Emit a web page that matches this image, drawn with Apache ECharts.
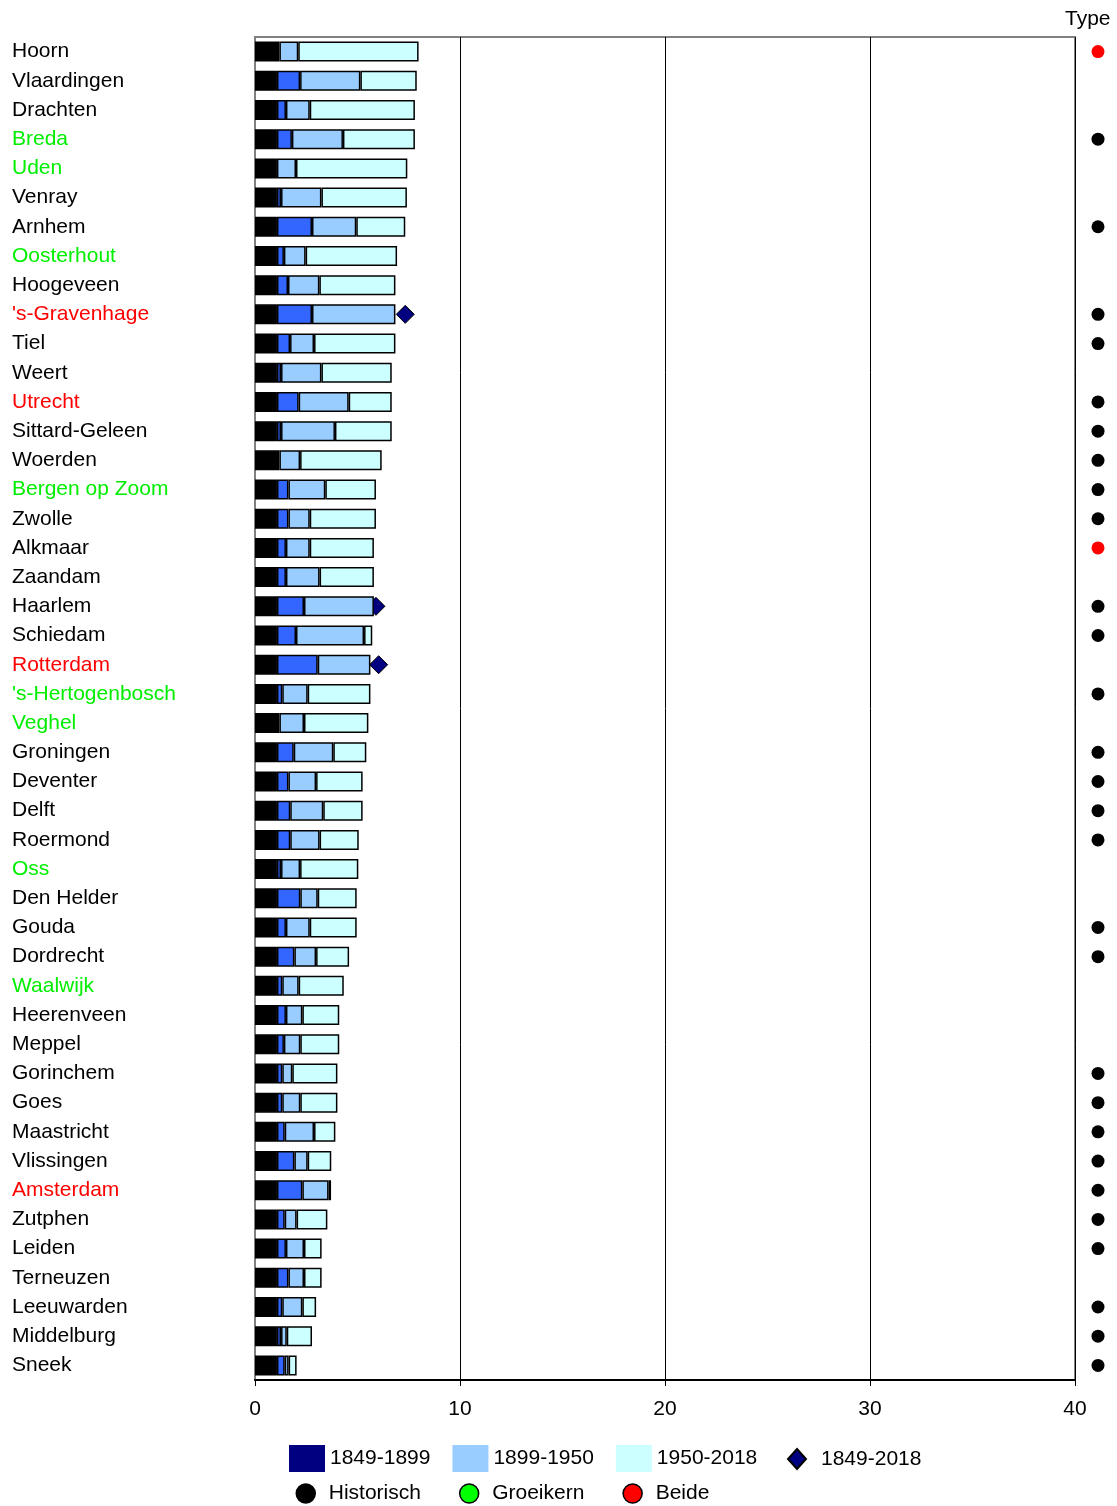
<!DOCTYPE html>
<html><head><meta charset="utf-8">
<script src="https://cdn.jsdelivr.net/npm/echarts@6/dist/echarts.min.js"></script>
<style>html,body{margin:0;padding:0;background:#fff}#c{width:1117px;height:1506px}</style>
</head><body><div id="c"></div>
<script>
const cities = ["Hoorn","Vlaardingen","Drachten","Breda","Uden","Venray","Arnhem","Oosterhout","Hoogeveen","'s-Gravenhage","Tiel","Weert","Utrecht","Sittard-Geleen","Woerden","Bergen op Zoom","Zwolle","Alkmaar","Zaandam","Haarlem","Schiedam","Rotterdam","'s-Hertogenbosch","Veghel","Groningen","Deventer","Delft","Roermond","Oss","Den Helder","Gouda","Dordrecht","Waalwijk","Heerenveen","Meppel","Gorinchem","Goes","Maastricht","Vlissingen","Amsterdam","Zutphen","Leiden","Terneuzen","Leeuwarden","Middelburg","Sneek"];
// label colour group: n = black, g = green, r = red
const labelGroup = ["n","n","n","g","g","n","n","g","n","r","n","n","r","n","n","g","n","n","n","n","n","r","g","g","n","n","n","n","g","n","n","n","g","n","n","n","n","n","n","r","n","n","n","n","n","n"];
// type column: H = Historisch, G = Groeikern, B = Beide, "" = none
const cityType = ["B","","","H","","","H","","","H","H","","H","H","H","H","H","B","","H","H","","H","","H","H","H","H","","","H","H","","","","H","H","H","H","H","H","H","","H","H","H"];
const base = [1.19,1.07,1.07,1.07,1.07,1.07,1.07,1.07,1.07,1.07,1.07,1.07,1.07,1.07,1.19,1.07,1.07,1.07,1.07,1.07,1.07,1.07,1.07,1.19,1.07,1.07,1.07,1.07,1.07,1.07,1.07,1.07,1.07,1.07,1.07,1.07,1.07,1.07,1.07,1.07,1.07,1.07,1.07,1.07,1.07,1.07];
const p1849_1899 = [null,1.13,0.44,0.73,null,0.2,1.71,0.34,0.54,1.71,0.64,0.2,1.06,0.2,null,0.56,0.56,0.44,0.44,1.32,0.93,1.99,0.26,null,0.82,0.56,0.65,0.65,0.2,1.14,0.44,0.85,0.26,0.44,0.34,0.26,0.26,0.38,0.85,1.24,0.38,0.44,0.56,0.26,0.2,0.38];
const p1899_1950 = [0.92,2.94,1.16,2.49,0.93,1.97,2.16,1.06,1.53,4.07,1.17,1.97,2.44,2.63,1.01,1.80,1.04,1.16,1.64,3.41,3.32,2.57,1.24,1.20,1.93,1.35,1.61,1.43,0.93,0.85,1.16,1.06,0.80,0.80,0.80,0.49,0.88,1.43,0.65,1.28,0.58,0.88,0.76,0.98,0.28,0.19];
const p1950_2018 = [5.87,2.75,5.13,3.51,5.43,4.17,2.39,4.46,3.71,null,3.97,3.43,2.10,2.77,3.98,2.47,3.23,3.13,2.65,null,0.40,null,3.06,3.14,1.61,2.27,1.92,1.91,2.84,1.90,2.29,1.61,2.20,1.80,1.90,2.20,1.81,1.04,1.15,0.12,1.50,0.86,0.86,0.67,1.23,0.39];
const p1849_2018 = cities.map(()=>null);
p1849_2018[9] = 7.33; p1849_2018[19] = 5.9; p1849_2018[21] = 6.03;
const xTicks = [0,10,20,30,40];

const FONT = "'Liberation Sans', Arial, sans-serif";
const FS = 21;
const labelColors = {n:'#000000', g:'#00EE00', r:'#FF0000'};
const typeColors = {H:'#000000', G:'#00FF00', B:'#FF0000'};
const typeNames = {H:'Historisch', G:'Groeikern', B:'Beide'};

const barStyle = (c)=>({color:c, borderColor:'#000', borderWidth:1.5});
const chart = echarts.init(document.getElementById('c'), null, {renderer:'canvas'});

const typeSeries = ['H','G','B'].map(t=>({
  type:'scatter', name:typeNames[t], xAxisIndex:1, yAxisIndex:1,
  symbol:'circle', symbolSize:13,
  itemStyle:{color:typeColors[t], opacity:1},
  data: cities.map((c,i)=> cityType[i]===t ? [0.5, c] : null).filter(d=>d)
}));

const legText = {fontSize:FS, color:'#000', fontFamily:FONT};
// icons padded inside their legend box (invisible move points fix the box)
const diamondIcon = 'path://M0,0M38,0M38,20M0,20M19,0L28,10L19,20L10,10Z';
const circleIcon = 'path://M0,0M36,0M36,19M0,19M8.5,9.5A9.5,9.5,0,1,1,27.5,9.5A9.5,9.5,0,1,1,8.5,9.5Z';

chart.setOption({
  animation:false,
  textStyle:{fontFamily:FONT},
  title:{text:'Type', left:1065, top:9, padding:0, textStyle:{fontSize:FS, fontWeight:'normal', color:'#000', fontFamily:FONT}},
  grid:[
    {left:255, right:42, top:37, bottom:126, show:true, borderColor:'#808080', borderWidth:2},
    {left:1085, width:26, top:37, bottom:126}
  ],
  xAxis:[
    {type:'value', gridIndex:0, min:xTicks[0], max:xTicks[xTicks.length-1], interval:10,
     axisLine:{show:true, lineStyle:{color:'#000', width:2}},
     axisTick:{show:true, length:6, lineStyle:{color:'#000'}},
     axisLabel:{fontSize:FS, color:'#000', margin:19, fontFamily:FONT},
     splitLine:{show:true, lineStyle:{color:'#000', width:1}}},
    {type:'value', gridIndex:1, min:0, max:1, show:false}
  ],
  yAxis:[
    {type:'category', gridIndex:0, data:cities, inverse:true,
     axisLine:{show:true, lineStyle:{color:'#808080', width:2}},
     axisTick:{show:false},
     axisLabel:{align:'left', margin:243, fontSize:FS, fontFamily:FONT,
       color:(v,i)=>labelColors[labelGroup[i]]}},
    {type:'category', gridIndex:1, data:cities, inverse:true, show:false}
  ],
  legend:[
    {left:289, top:1445, padding:0, itemWidth:36, itemHeight:27, itemGap:22, icon:'rect',
     textStyle:legText,
     data:[{name:'1849-1899', itemStyle:{color:'#000080', borderWidth:0}},
           {name:'1899-1950', itemStyle:{borderWidth:0}},
           {name:'1950-2018', itemStyle:{borderWidth:0}}]},
    {left:777, top:1448, padding:0, itemWidth:38, itemHeight:20, icon:diamondIcon,
     textStyle:legText,
     data:[{name:'1849-2018'}]},
    {left:287, top:1483, padding:0, itemWidth:36, itemHeight:19, itemGap:29.5, icon:circleIcon,
     textStyle:legText,
     data:[{name:'Historisch', itemStyle:{borderColor:'#000', borderWidth:1.5}},
           {name:'Groeikern', itemStyle:{borderColor:'#000', borderWidth:1.5}},
           {name:'Beide', itemStyle:{borderColor:'#000', borderWidth:1.5}}]}
  ],
  series:[
    {type:'scatter', name:'1849-2018', z:1, symbol:'diamond', symbolSize:18,
     itemStyle:{color:'#000080', opacity:1, borderColor:'#000', borderWidth:1}, data:p1849_2018},
    {type:'bar', name:'basis', stack:'a', barWidth:20, z:3, itemStyle:barStyle('#000000'), data:base},
    {type:'bar', name:'1849-1899', stack:'a', barWidth:20, z:3, itemStyle:barStyle('#3366FF'), data:p1849_1899},
    {type:'bar', name:'1899-1950', stack:'a', barWidth:20, z:3, itemStyle:barStyle('#99CCFF'), data:p1899_1950},
    {type:'bar', name:'1950-2018', stack:'a', barWidth:20, z:3, itemStyle:barStyle('#CCFFFF'), data:p1950_2018},
    ...typeSeries
  ]
});
</script></body></html>
